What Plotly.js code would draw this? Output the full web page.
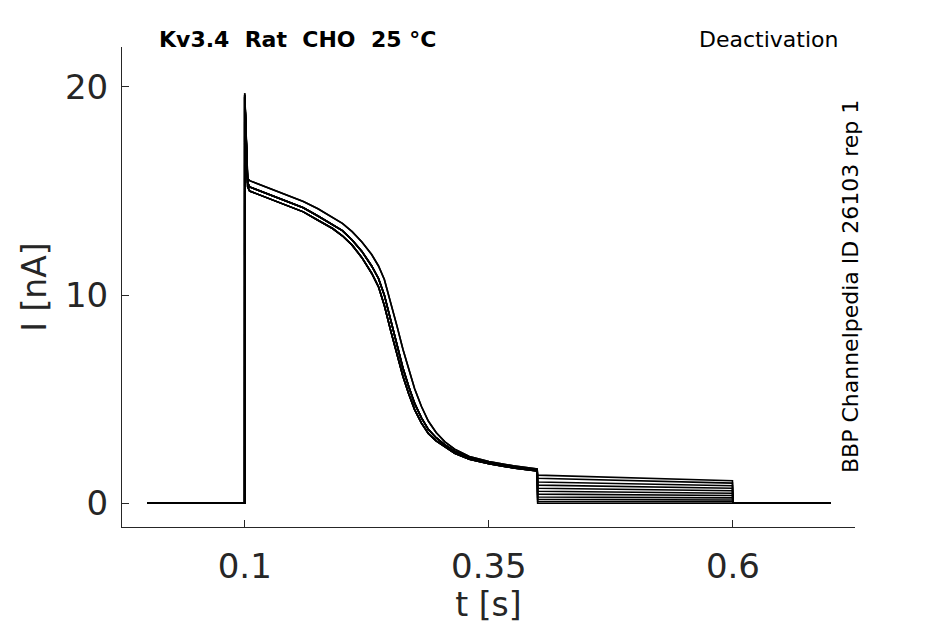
<!DOCTYPE html>
<html>
<head>
<meta charset="utf-8">
<script src="https://cdn.plot.ly/plotly-3.0.1.min.js"></script>
<style>
  body { margin: 0; background: #fff; }
  #chart { width: 945px; height: 624px; }
</style>
</head>
<body>
<div id="chart"></div>
<script>
// time points of the activation step (s)
var tAct = [0, 0.0999, 0.1, 0.1015, 0.103, 0.105, 0.13, 0.145, 0.16, 0.175, 0.19, 0.2, 0.21, 0.22, 0.23, 0.237, 0.243, 0.25, 0.256, 0.262, 0.268, 0.274, 0.281, 0.288, 0.296, 0.305, 0.315, 0.33, 0.35, 0.375, 0.3995];
// three shapes of the activation current (nA)
var iUpper = [0, 0, 19.7, 17.5, 15.6, 15.5, 15.05, 14.8, 14.5, 14.15, 13.75, 13.45, 13.05, 12.55, 11.95, 11.4, 10.75, 9.6, 8.5, 7.4, 6.4, 5.5, 4.65, 3.95, 3.4, 2.95, 2.6, 2.25, 2.0, 1.8, 1.65];
var iMid   = [0, 0, 19.6, 17.4, 15.4, 15.2, 14.75, 14.5, 14.2, 13.8, 13.4, 13.1, 12.65, 12.1, 11.4, 10.8, 10.0, 8.7, 7.6, 6.5, 5.6, 4.8, 4.1, 3.55, 3.15, 2.8, 2.5, 2.2, 1.95, 1.75, 1.6];
var iLower = [0, 0, 19.5, 17.3, 15.2, 15.0, 14.55, 14.3, 14.0, 13.6, 13.2, 12.85, 12.4, 11.8, 11.05, 10.4, 9.5, 8.2, 7.1, 6.1, 5.25, 4.5, 3.85, 3.35, 3.0, 2.7, 2.4, 2.12, 1.9, 1.7, 1.55];

// tail (deactivation) step
var tTail = [0.4, 0.5995];
var tailStart = [1.35, 1.2, 1.02, 0.87, 0.72, 0.58, 0.44, 0.30, 0.19, 0.09, 0.0];
var tailEnd   = [1.08, 0.97, 0.84, 0.72, 0.60, 0.48, 0.37, 0.26, 0.16, 0.08, 0.0];
var sweepShape = ['upper', 'upper', 'mid', 'mid', 'mid', 'mid', 'lower', 'lower', 'lower', 'mid', 'lower'];

// after the tail
var tOff = [0.6, 0.7];
var iOff = [0, 0];

var shapes = { upper: iUpper, mid: iMid, lower: iLower };

var data = [];
for (var k = 0; k < tailStart.length; k++) {
  data.push({
    x: tAct.concat(tTail, tOff),
    y: shapes[sweepShape[k]].concat([tailStart[k], tailEnd[k]], iOff),
    type: 'scatter',
    mode: 'lines',
    line: { color: '#000', width: 1.6 },
    hoverinfo: 'skip'
  });
}

var FONT = 'DejaVu Sans, sans-serif';
var AX = '#262626';

var layout = {
  width: 945,
  height: 624,
  margin: { l: 122, r: 90, t: 47, b: 97 },
  paper_bgcolor: '#fff',
  plot_bgcolor: '#fff',
  showlegend: false,
  font: { family: FONT, color: AX },
  xaxis: {
    range: [-0.0257, 0.725],
    tickvals: [0.1, 0.35, 0.6],
    ticktext: ['0.1', '0.35', '0.6'],
    ticks: 'inside', ticklen: 7, tickcolor: AX, tickwidth: 1,
    showline: true, linecolor: AX, linewidth: 1,
    showgrid: false, zeroline: false,
    tickfont: { size: 34, color: AX },
    ticklabelstandoff: 9,
    title: { text: 't [s]', font: { size: 33, color: AX }, standoff: 6 }
  },
  yaxis: {
    range: [-1.14, 21.92],
    tickvals: [0, 10, 20],
    ticktext: ['0', '10', '20'],
    ticks: 'inside', ticklen: 7, tickcolor: AX, tickwidth: 1,
    showline: true, linecolor: AX, linewidth: 1,
    showgrid: false, zeroline: false,
    tickfont: { size: 34, color: AX },
    ticklabelstandoff: 6,
    title: { text: 'I [nA]', font: { size: 33, color: AX }, standoff: 8 }
  },
  annotations: [
    {
      text: '<b>Kv3.4\u00a0\u00a0Rat\u00a0\u00a0CHO\u00a0\u00a025\u00a0°C</b>',
      xref: 'paper', yref: 'paper', x: 0.239, y: 1.0146,
      xanchor: 'center', yanchor: 'middle', showarrow: false,
      font: { family: FONT, size: 22, color: '#000' }
    },
    {
      text: 'Deactivation',
      xref: 'paper', yref: 'paper', x: 0.980, y: 1.0146,
      xanchor: 'right', yanchor: 'middle', showarrow: false,
      font: { family: FONT, size: 22, color: '#000' }
    },
    {
      text: 'BBP Channelpedia ID 26103 rep 1',
      xref: 'paper', yref: 'paper', x: 1.0, y: 0.5,
      xshift: -5,
      xanchor: 'center', yanchor: 'middle', textangle: -90, showarrow: false,
      font: { family: FONT, size: 22, color: '#000' }
    }
  ]
};

Plotly.newPlot('chart', data, layout, { displayModeBar: false, staticPlot: true });
</script>
</body>
</html>
